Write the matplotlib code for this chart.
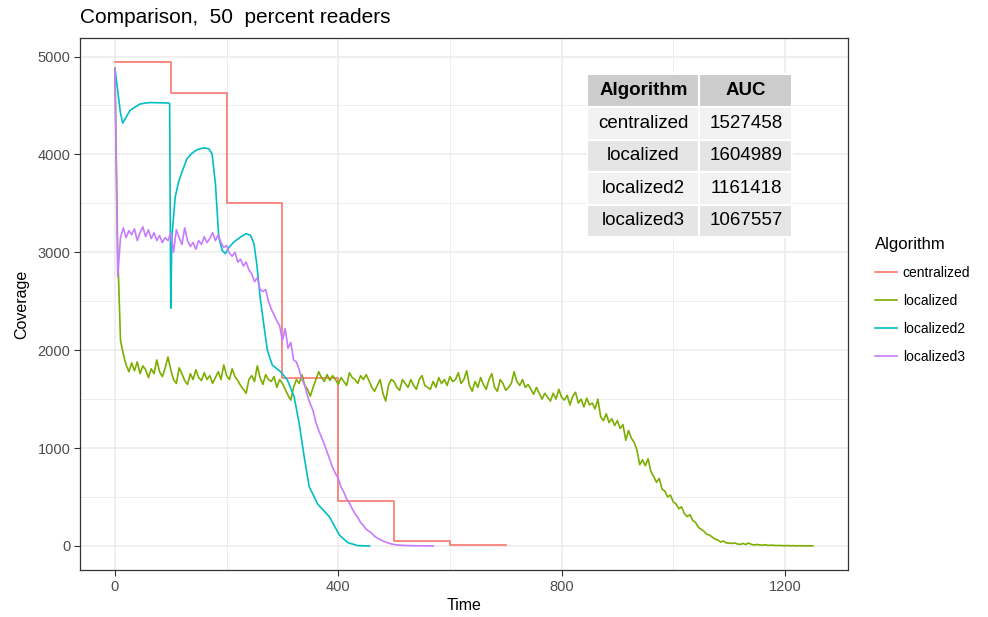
import matplotlib.pyplot as plt
import numpy as np

plt.rcParams['font.family'] = ['Liberation Sans', 'DejaVu Sans']

algoritmos = ['centralized', 'localized', 'localized2', 'localized3']
cores = ['#F8766D', '#7CAE00', '#00BFC4', '#C77CFF']
auc = [1527458, 1604989, 1161418, 1067557]

# centralized: degraus a cada 100 unidades de tempo
t_cent = [0, 100, 200, 300, 400, 500, 600, 700]
cov_cent = [4940, 4630, 3500, 1720, 460, 55, 10, 10]

# localized: amostrado a cada 5 unidades de tempo
t_loc = np.arange(0, 1255, 5)
cov_loc = [
    4880, 3000, 2100, 1960, 1850, 1780, 1870, 1790, 1880, 1760,
    1840, 1800, 1720, 1810, 1760, 1900, 1780, 1730, 1820, 1930,
    1800, 1700, 1660, 1820, 1760, 1690, 1650, 1760, 1700, 1800,
    1720, 1690, 1770, 1700, 1740, 1660, 1720, 1780, 1700, 1850,
    1740, 1700, 1810, 1730, 1690, 1640, 1600, 1560, 1700, 1740,
    1680, 1840, 1720, 1650, 1750, 1700, 1680, 1730, 1620, 1700,
    1660, 1600, 1540, 1490, 1620, 1700, 1660, 1750, 1640, 1600,
    1530, 1620, 1700, 1780, 1720, 1680, 1750, 1690, 1740, 1700,
    1650, 1720, 1680, 1640, 1770, 1720, 1700, 1660, 1740, 1700,
    1750, 1690, 1620, 1580, 1640, 1700, 1560, 1480, 1640, 1700,
    1680, 1620, 1590, 1700, 1660, 1620, 1700, 1640, 1600, 1700,
    1740, 1640, 1620, 1600, 1680, 1620, 1720, 1660, 1700, 1640,
    1730, 1680, 1700, 1770, 1660, 1700, 1790, 1640, 1580, 1680,
    1620, 1720, 1650, 1600, 1700, 1760, 1620, 1580, 1700, 1660,
    1590, 1620, 1660, 1780, 1680, 1640, 1700, 1620, 1650, 1600,
    1550, 1620, 1560, 1500, 1560, 1520, 1480, 1560, 1500, 1600,
    1520, 1490, 1540, 1440, 1530, 1570, 1460, 1500, 1420, 1510,
    1440, 1460, 1400, 1500, 1320, 1280, 1350, 1260, 1300, 1230,
    1280, 1200, 1240, 1080, 1180, 1100, 1060, 980, 830, 880,
    820, 890, 760, 710, 650, 690, 580, 560, 500, 520,
    450, 430, 380, 400, 330, 300, 320, 260, 240, 190,
    170, 150, 120, 110, 90, 70, 60, 40, 50, 30,
    30, 25, 30, 20, 15, 25, 15, 30, 15, 10,
    15, 10, 8, 12, 5, 8, 6, 4, 5, 3,
    2, 4, 2, 3, 1, 2, 1, 1, 0, 1,
    0,
]

# localized2: curva suave, pontos irregulares
t_loc2 = [0, 5, 10, 14, 20, 27, 35, 45, 55, 63, 75, 85, 96, 98, 100, 102,
          108, 114, 120, 129, 138, 147, 159, 168, 174, 180, 186, 192, 198,
          204, 213, 225, 235, 243, 249, 254, 260, 268, 273, 282, 297, 309,
          321, 330, 339, 348, 363, 384, 402, 417, 435, 456]
cov_loc2 = [4880, 4650, 4420, 4320, 4380, 4450, 4480, 4515, 4525, 4530,
            4528, 4527, 4525, 4520, 2430, 3156, 3565, 3718, 3820, 3956,
            4013, 4048, 4068, 4058, 4007, 3700, 3156, 3020, 2986, 3048,
            3105, 3156, 3190, 3173, 3088, 2884, 2544, 2204, 2000, 1847,
            1779, 1694, 1524, 1252, 911, 605, 429, 299, 112, 34, 3, 0]

# localized3: amostrado a cada 5 unidades de tempo
t_loc3 = np.arange(0, 575, 5)
cov_loc3 = [
    4880, 2750, 3150, 3250, 3150, 3220, 3180, 3240, 3120, 3200,
    3260, 3160, 3230, 3140, 3200, 3120, 3170, 3100, 3150, 3120,
    3200, 3000, 3230, 3150, 3080, 3250, 3120, 3060, 3100, 3030,
    3120, 3080, 3160, 3100, 3140, 3200, 3120, 3180, 3100, 3050,
    3070, 2990, 2960, 3000, 2900, 2930, 2860, 2900, 2820, 2780,
    2700, 2740, 2620, 2600, 2620, 2500, 2420, 2360, 2300, 2250,
    2100, 2220, 2020, 2080, 1900, 1880, 1800, 1700, 1640, 1530,
    1450, 1380, 1260, 1180, 1110, 1040, 960, 880, 800, 740,
    690, 600, 550, 480, 440, 380, 330, 290, 240, 210,
    170, 150, 130, 100, 80, 65, 50, 40, 30, 20,
    15, 10, 8, 6, 5, 4, 3, 2, 2, 1,
    1, 1, 0, 0, 0,
]

fig = plt.figure(figsize=(9.88, 6.17), dpi=100)
ax = fig.add_axes([0.081, 0.076, 0.777, 0.862])

ax.plot(t_cent, cov_cent, drawstyle='steps-post', color=cores[0], lw=1.2, label=algoritmos[0])
ax.plot(t_loc, cov_loc, color=cores[1], lw=1.2, label=algoritmos[1])
ax.plot(t_loc2, cov_loc2, color=cores[2], lw=1.2, label=algoritmos[2])
ax.plot(t_loc3, cov_loc3, color=cores[3], lw=1.2, label=algoritmos[3])

# eixos no estilo theme_bw
ax.set_xlim(-62.5, 1312.5)
ax.set_ylim(-247, 5187)
ax.set_xticks([0, 400, 800, 1200])
ax.set_xticks([200, 600, 1000], minor=True)
ax.set_yticks([0, 1000, 2000, 3000, 4000, 5000])
ax.set_yticks([500, 1500, 2500, 3500, 4500], minor=True)
ax.grid(which='major', color='#EBEBEB', lw=1.1)
ax.grid(which='minor', color='#EBEBEB', lw=0.6)
ax.set_axisbelow(True)
ax.tick_params(which='major', length=4, color='#333333', labelsize=10.5, labelcolor='#4D4D4D', pad=3)
ax.tick_params(which='minor', length=0)
for s in ax.spines.values():
    s.set_color('#333333')
    s.set_linewidth(0.9)

ax.set_xlabel('Time', fontsize=11.5, labelpad=3)
ax.set_ylabel('Coverage', fontsize=11.5, labelpad=6)
fig.text(0.081, 0.972, 'Comparison,  50  percent readers', fontsize=15, ha='left', va='center')

# tabela com a AUC de cada algoritmo, por cima das linhas
celulas = [[a, str(v)] for a, v in zip(algoritmos, auc)]
tabela = ax.table(cellText=celulas, colLabels=['Algorithm', 'AUC'],
                  cellLoc='center', colWidths=[112, 93],
                  bbox=[0.661, 0.626, 0.267, 0.306])
tabela.set_zorder(10)
tabela.auto_set_font_size(False)
tabela.set_fontsize(13.5)
fundos = ['#F2F2F2', '#E5E5E5']
for (linha, col), cel in tabela.get_celld().items():
    cel.set_edgecolor('white')
    cel.set_linewidth(1.5)
    if linha == 0:
        cel.set_facecolor('#CCCCCC')
        cel.get_text().set_fontweight('bold')
    else:
        cel.set_facecolor(fundos[(linha - 1) % 2])

leg = fig.legend(loc='upper left', bbox_to_anchor=(0.873, 0.636), frameon=False,
                 title='Algorithm', fontsize=10, title_fontsize=12,
                 handlelength=1.6, handletextpad=0.4, labelspacing=1.0)
leg._legend_box.align = 'left'

fig.savefig('out.png', dpi=100)
